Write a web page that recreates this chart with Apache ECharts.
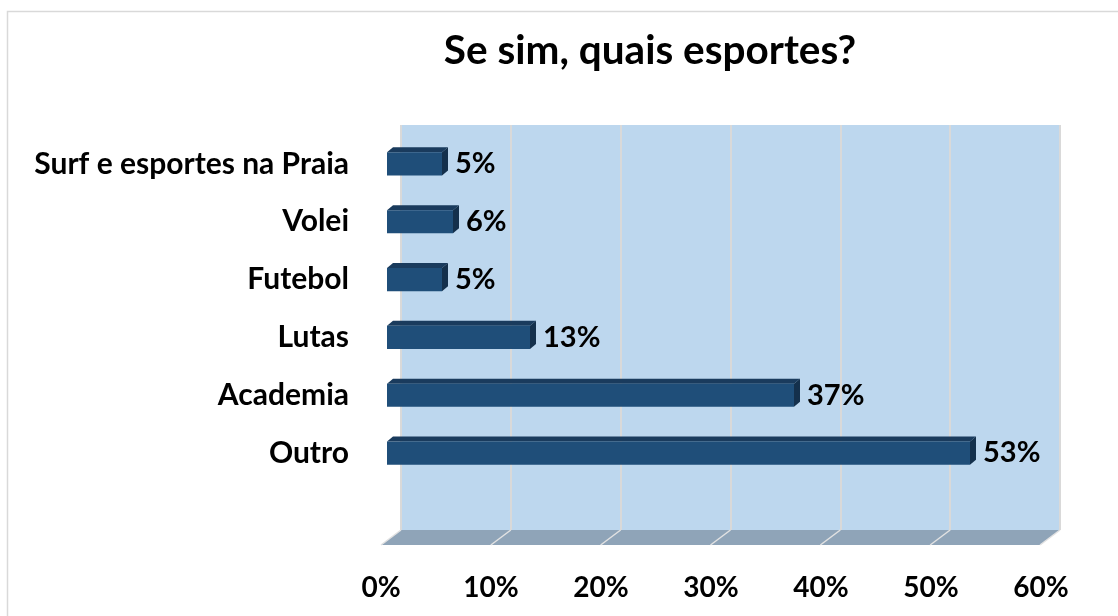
<!DOCTYPE html>
<html style="height: 100%">
<head>
    <meta charset="utf-8">
    <title>Se sim, quais esportes?</title>
    <script src="https://cdn.jsdelivr.net/npm/echarts@6/dist/echarts.min.js"></script>
</head>
<body style="height: 100%; margin: 0; background: #fff">
    <div id="main" style="width: 1118px; height: 616px"></div>
    <script type="text/javascript">
        // dados
        var categorias = ['Surf e esportes na Praia', 'Volei', 'Futebol', 'Lutas', 'Academia', 'Outro'];
        var valores = [5, 6, 5, 13, 37, 53];
        var ticks = [0, 10, 20, 30, 40, 50, 60];

        var fonte = 'Lato, "Open Sans", sans-serif';
        // parede do fundo / piso (efeito 3D do Excel)
        var wall = { left: 401, right: 1060, top: 125, bottom: 530 };
        var fx = -20, fy = 15; // deslocamento da borda da frente do piso

        var myChart = echarts.init(document.getElementById('main'));

        var graficos = [
            {
                type: 'rect',
                shape: { x: 7.5, y: 11.5, width: 1120, height: 640 },
                style: { fill: 'none', stroke: '#d9d9d9', lineWidth: 1.5 },
                silent: true
            },
            {
                type: 'polygon',
                shape: {
                    points: [[wall.left, wall.bottom], [wall.right, wall.bottom],
                             [wall.right + fx, wall.bottom + fy], [wall.left + fx, wall.bottom + fy]]
                },
                style: { fill: '#8fa4b8' },
                silent: true
            }
        ];
        // linhas do piso
        var passo = (wall.right - wall.left) / (ticks.length - 1);
        for (var i = 0; i < ticks.length; i++) {
            var x = wall.left + passo * i;
            graficos.push({
                type: 'line',
                shape: { x1: x, y1: wall.bottom, x2: x + fx, y2: wall.bottom + fy },
                style: { stroke: '#e2e2e2', lineWidth: 1.5 },
                silent: true
            });
        }

        var option = {
            animation: false,
            title: {
                text: 'Se sim, quais esportes?',
                left: 645,
                textAlign: 'center',
                top: 25,
                textStyle: { fontFamily: fonte, fontSize: 40.5, fontWeight: 'bold', color: '#000' }
            },
            graphic: graficos,
            grid: [
                { // parede
                    left: wall.left, right: 1118 - wall.right, top: wall.top, bottom: 616 - wall.bottom,
                    show: true, backgroundColor: '#bdd7ee', borderWidth: 0
                },
                { // barras
                    left: 387, width: 660, top: 135, height: 347
                },
                { // rotulos do eixo x
                    left: 381, width: 660, top: 544, height: 1
                }
            ],
            xAxis: [
                {
                    gridIndex: 0, type: 'value', min: 0, max: 60, interval: 10,
                    axisLine: { show: false }, axisTick: { show: false }, axisLabel: { show: false },
                    splitLine: { show: true, lineStyle: { color: '#d9d9d9', width: 2 } }
                },
                {
                    gridIndex: 1, type: 'value', min: 0, max: 60, show: false
                },
                {
                    gridIndex: 2, type: 'value', min: 0, max: 60, interval: 10,
                    axisLine: { show: false }, axisTick: { show: false }, splitLine: { show: false },
                    axisLabel: {
                        margin: 29,
                        formatter: '{value}%',
                        fontFamily: fonte, fontSize: 28, fontWeight: 'bold', color: '#000'
                    }
                }
            ],
            yAxis: [
                { gridIndex: 0, type: 'value', show: false },
                {
                    gridIndex: 1, type: 'category', inverse: true, data: categorias,
                    axisLine: { show: false }, axisTick: { show: false },
                    axisLabel: {
                        margin: 38,
                        fontFamily: fonte, fontSize: 30, fontWeight: 'bold', color: '#000'
                    }
                },
                { gridIndex: 2, type: 'value', show: false }
            ],
            series: [
                {
                    type: 'custom',
                    xAxisIndex: 1,
                    yAxisIndex: 1,
                    encode: { x: 0, y: 1 },
                    data: valores.map(function (v, i) { return [v, i]; }),
                    renderItem: function (params, api) {
                        var p0 = api.coord([0, api.value(1)]);
                        var p1 = api.coord([api.value(0), api.value(1)]);
                        var h = api.size([0, 1])[1] * 0.4;
                        var dx = 6, dy = 5;
                        var x0 = p0[0], x1 = p1[0];
                        var y0 = p1[1] - h / 2, y1 = p1[1] + h / 2;
                        return {
                            type: 'group',
                            children: [
                                {
                                    type: 'polygon',
                                    shape: { points: [[x0, y0], [x1, y0], [x1 + dx, y0 - dy], [x0 + dx, y0 - dy]] },
                                    style: { fill: '#1a3b5d' }
                                },
                                {
                                    type: 'polygon',
                                    shape: { points: [[x1, y0], [x1 + dx, y0 - dy], [x1 + dx, y1 - dy], [x1, y1]] },
                                    style: { fill: '#14304c' }
                                },
                                {
                                    type: 'rect',
                                    shape: { x: x0, y: y0, width: x1 - x0, height: h },
                                    style: { fill: '#1f4e79' }
                                },
                                {
                                    type: 'text',
                                    style: {
                                        x: x1 + dx + 7, y: p1[1],
                                        text: api.value(0) + '%',
                                        textVerticalAlign: 'middle',
                                        font: 'bold 29px ' + fonte,
                                        fill: '#000'
                                    }
                                }
                            ]
                        };
                    }
                }
            ]
        };

        myChart.setOption(option);
    </script>
</body>
</html>
